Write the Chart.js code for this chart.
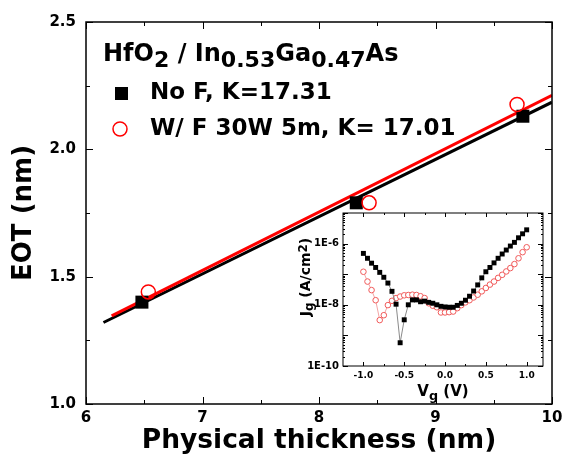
<!DOCTYPE html>
<html>
<head>
<meta charset="utf-8">
<script src="https://cdn.jsdelivr.net/npm/chart.js@4"></script>
<style>
  body { margin: 0; background: #fff; }
  #wrap { position: relative; width: 564px; height: 463px; }
  #main { position: absolute; left: 0; top: 0; }
  #inset { position: absolute; left: 290px; top: 200px; }
</style>
</head>
<body>
<div id="wrap">
  <canvas id="main" width="564" height="463"></canvas>
  <canvas id="inset" width="264" height="210"></canvas>
</div>
<script>
// main plot: EOT vs physical thickness
const thickNoF = [6.48, 8.32, 9.75];
const eotNoF = [1.40, 1.79, 2.13];
const thickWF = [6.535, 8.43, 9.70];
const eotWF = [1.44, 1.79, 2.176];
// linear fit lines, end points
const fitNoFx = [6.15, 10];
const fitNoFy = [1.32, 2.185];
const fitWFx = [6.22, 10];
const fitWFy = [1.346, 2.212];
const xTicks = [6, 7, 8, 9, 10];
const yTicks = [1.0, 1.5, 2.0, 2.5];

// inset: Jg vs Vg (Jg kept as log10 values)
const vg = [-1.0, -0.95, -0.9, -0.85, -0.8, -0.75, -0.7, -0.65, -0.6, -0.55, -0.5, -0.45, -0.4, -0.35,
  -0.3, -0.25, -0.2, -0.15, -0.1, -0.05, 0.0, 0.05, 0.1, 0.15, 0.2, 0.25, 0.3, 0.35, 0.4, 0.45,
  0.5, 0.55, 0.6, 0.65, 0.7, 0.75, 0.8, 0.85, 0.9, 0.95, 1.0];
const logJgNoF = [-6.32, -6.48, -6.64, -6.78, -6.94, -7.10, -7.29, -7.56, -7.98, -9.24, -8.49, -8.0, -7.84, -7.84,
  -7.90, -7.88, -7.92, -7.95, -8.0, -8.05, -8.07, -8.08, -8.08, -8.02, -7.95, -7.85, -7.72, -7.55, -7.35, -7.12,
  -6.92, -6.78, -6.63, -6.48, -6.34, -6.21, -6.08, -5.96, -5.81, -5.68, -5.55];
const logJgWF = [-6.92, -7.24, -7.52, -7.85, -8.5, -8.34, -8.01, -7.87, -7.78, -7.73, -7.69, -7.68, -7.67, -7.68,
  -7.72, -7.78, -7.95, -8.03, -8.08, -8.25, -8.25, -8.24, -8.22, -8.11, -8.01, -7.92, -7.85, -7.76, -7.67, -7.56,
  -7.45, -7.34, -7.24, -7.12, -7.02, -6.91, -6.8, -6.67, -6.48, -6.28, -6.12];
const vgTicks = [-1.0, -0.5, 0.0, 0.5, 1.0];
const jgTicks = [1e-10, 1e-8, 1e-6];

Chart.defaults.font.family = "'DejaVu Sans', sans-serif";
Chart.defaults.font.weight = 'bold';
Chart.defaults.color = '#000';

const toXY = (xs, ys) => xs.map((x, i) => ({ x: x, y: ys[i] }));
const midpoints = arr => arr.slice(1).map((v, i) => (v + arr[i]) / 2);

// draws the box round the plot area and the inward ticks on all four sides
const framePlugin = {
  id: 'frame',
  afterDraw(chart, args, opts) {
    const { ctx, chartArea: a, scales } = chart;
    ctx.save();
    ctx.strokeStyle = '#000';
    ctx.lineWidth = 1;
    ctx.beginPath();
    opts.xMarks.forEach(([v, len]) => {
      const px = Math.round(scales.x.getPixelForValue(v)) + 0.5;
      ctx.moveTo(px, a.bottom); ctx.lineTo(px, a.bottom - len);
      ctx.moveTo(px, a.top); ctx.lineTo(px, a.top + len);
    });
    opts.yMarks.forEach(([v, len]) => {
      const py = Math.round(scales.y.getPixelForValue(v)) + 0.5;
      ctx.moveTo(a.left, py); ctx.lineTo(a.left + len, py);
      ctx.moveTo(a.right, py); ctx.lineTo(a.right - len, py);
    });
    ctx.stroke();
    ctx.lineWidth = opts.lineWidth;
    ctx.strokeRect(a.left, a.top, a.right - a.left, a.bottom - a.top);
    ctx.restore();
  }
};

// text with sub/superscript pieces; parts = [[text, 'sub'|'sup'|null], ...]
function richWidth(ctx, parts, size, small) {
  let w = 0;
  parts.forEach(([t, kind]) => {
    ctx.font = 'bold ' + (kind ? size * small : size) + "px 'DejaVu Sans'";
    w += ctx.measureText(t).width;
  });
  return w;
}
function drawRich(ctx, parts, x, y, size, shift, small) {
  ctx.textAlign = 'left';
  ctx.textBaseline = 'alphabetic';
  parts.forEach(([t, kind]) => {
    ctx.font = 'bold ' + (kind ? size * small : size) + "px 'DejaVu Sans'";
    const dy = kind === 'sub' ? shift : kind === 'sup' ? -shift : 0;
    ctx.fillText(t, x, y + dy);
    x += ctx.measureText(t).width;
  });
}

const legendPlugin = {
  id: 'eotLegend',
  afterDraw(chart) {
    const ctx = chart.ctx;
    ctx.save();
    ctx.fillStyle = '#000';
    drawRich(ctx, [['HfO', null], ['2', 'sub'], [' / In', null], ['0.53', 'sub'], ['Ga', null], ['0.47', 'sub'], ['As', null]],
      103, 61, 24, 6, 0.92);
    ctx.fillRect(115, 87, 13, 13);
    drawRich(ctx, [['No F, K=17.31', null]], 150, 99, 23, 0, 1);
    ctx.strokeStyle = '#ff0000';
    ctx.lineWidth = 1.5;
    ctx.beginPath();
    ctx.arc(120, 129, 7, 0, Math.PI * 2);
    ctx.stroke();
    drawRich(ctx, [['W/ F 30W 5m, K= 17.01', null]], 150, 135, 23, 0, 1);
    ctx.restore();
  }
};

new Chart(document.getElementById('main'), {
  type: 'scatter',
  data: {
    datasets: [
      {
        data: toXY(thickWF, eotWF),
        pointStyle: 'circle', pointRadius: 7, pointBorderWidth: 1.5,
        pointBorderColor: '#ff0000', pointBackgroundColor: 'rgba(0,0,0,0)', showLine: false
      },
      {
        data: toXY(thickNoF, eotNoF),
        pointStyle: 'rect', pointRadius: 9.2, pointBorderWidth: 0,
        pointBackgroundColor: '#000', showLine: false
      },
      {
        data: toXY(fitWFx, fitWFy),
        showLine: true, borderColor: '#ff0000', borderWidth: 3, pointRadius: 0
      },
      {
        data: toXY(fitNoFx, fitNoFy),
        showLine: true, borderColor: '#000', borderWidth: 3, pointRadius: 0
      }
    ]
  },
  options: {
    responsive: false,
    animation: false,
    layout: { padding: { top: 22, right: 12, left: 0, bottom: 0 } },
    plugins: {
      legend: { display: false },
      tooltip: { enabled: false },
      frame: {
        lineWidth: 1.5,
        xMarks: xTicks.map(v => [v, 7]).concat(midpoints(xTicks).map(v => [v, 4])),
        yMarks: yTicks.map(v => [v, 7]).concat(midpoints(yTicks).map(v => [v, 4]))
      }
    },
    scales: {
      x: {
        type: 'linear', min: 6, max: 10,
        grid: { display: false, drawTicks: false },
        border: { display: false },
        afterFit: s => { s.height = 59; s.paddingLeft = 0; s.paddingRight = 0; },
        afterBuildTicks: s => { s.ticks = xTicks.map(v => ({ value: v })); },
        ticks: { padding: 5, font: { size: 15, weight: 'bold' }, callback: v => String(v) },
        title: { display: true, text: 'Physical thickness (nm)', font: { size: 26.5, weight: 'bold' }, padding: { top: 0, bottom: 6 } }
      },
      y: {
        type: 'linear', min: 1.0, max: 2.5,
        grid: { display: false, drawTicks: false },
        border: { display: false },
        afterFit: s => { s.width = 86; s.paddingTop = 0; s.paddingBottom = 0; },
        afterBuildTicks: s => { s.ticks = yTicks.map(v => ({ value: v })); },
        ticks: { padding: 10, font: { size: 15, weight: 'bold' }, callback: v => v.toFixed(1) },
        title: { display: true, text: 'EOT (nm)', font: { size: 26, weight: 'bold' }, padding: { top: 9, bottom: 0 } }
      }
    }
  },
  plugins: [framePlugin, legendPlugin]
});

// inset axis titles with subscripts
const insetTitles = {
  id: 'insetTitles',
  afterDraw(chart) {
    const { ctx, chartArea: a } = chart;
    ctx.save();
    ctx.fillStyle = '#000';
    const xParts = [['V', null], ['g', 'sub'], [' (V)', null]];
    const wx = richWidth(ctx, xParts, 15, 0.85);
    drawRich(ctx, xParts, (a.left + a.right) / 2 - wx / 2, 196, 15, 4, 0.85);
    const yParts = [['J', null], ['g', 'sub'], [' (A/cm', null], ['2', 'sup'], [')', null]];
    const wy = richWidth(ctx, yParts, 14, 0.85);
    ctx.translate(20, 77);
    ctx.rotate(-Math.PI / 2);
    drawRich(ctx, yParts, -wy / 2, 0, 14, 3, 0.85);
    ctx.restore();
  }
};

const jgDecades = [-10, -9, -8, -7, -6, -5];
const jgMarks = [];
jgDecades.forEach(d => {
  jgMarks.push([Math.pow(10, d), 5]);
  if (d < -5) [2, 3, 4, 5, 6, 7, 8, 9].forEach(k => jgMarks.push([k * Math.pow(10, d), 2]));
});

new Chart(document.getElementById('inset'), {
  type: 'scatter',
  data: {
    datasets: [
      {
        data: vg.map((v, i) => ({ x: v, y: Math.pow(10, logJgNoF[i]) })),
        showLine: true, borderColor: '#8a8a8a', borderWidth: 1,
        pointStyle: 'rect', pointRadius: 3.5, pointBorderWidth: 0, pointBackgroundColor: '#000'
      },
      {
        data: vg.map((v, i) => ({ x: v, y: Math.pow(10, logJgWF[i]) })),
        showLine: true, borderColor: '#f2a4a4', borderWidth: 1,
        pointStyle: 'circle', pointRadius: 2.8, pointBorderWidth: 1,
        pointBorderColor: '#f05a5a', pointBackgroundColor: '#fff'
      }
    ]
  },
  options: {
    responsive: false,
    animation: false,
    layout: { padding: { top: 13, right: 11, left: 0, bottom: 0 } },
    plugins: {
      legend: { display: false },
      tooltip: { enabled: false },
      frame: {
        lineWidth: 1,
        xMarks: vgTicks.map(v => [v, 4]).concat(midpoints(vgTicks).map(v => [v, 2])),
        yMarks: jgMarks
      }
    },
    scales: {
      x: {
        type: 'linear', min: -1.25, max: 1.2,
        grid: { display: false, drawTicks: false },
        border: { display: false },
        afterFit: s => { s.height = 44; },
        afterBuildTicks: s => { s.ticks = vgTicks.map(v => ({ value: v })); },
        ticks: { padding: 4, font: { size: 9, weight: 'bold' }, callback: v => v.toFixed(1) }
      },
      y: {
        type: 'logarithmic', min: 1e-10, max: 1e-5,
        grid: { display: false, drawTicks: false },
        border: { display: false },
        afterFit: s => { s.width = 53; },
        afterBuildTicks: s => { s.ticks = jgTicks.map(v => ({ value: v })); },
        ticks: { padding: 4, font: { size: 10, weight: 'bold' }, callback: v => '1E' + Math.round(Math.log10(v)) }
      }
    }
  },
  plugins: [framePlugin, insetTitles]
});
</script>
</body>
</html>
